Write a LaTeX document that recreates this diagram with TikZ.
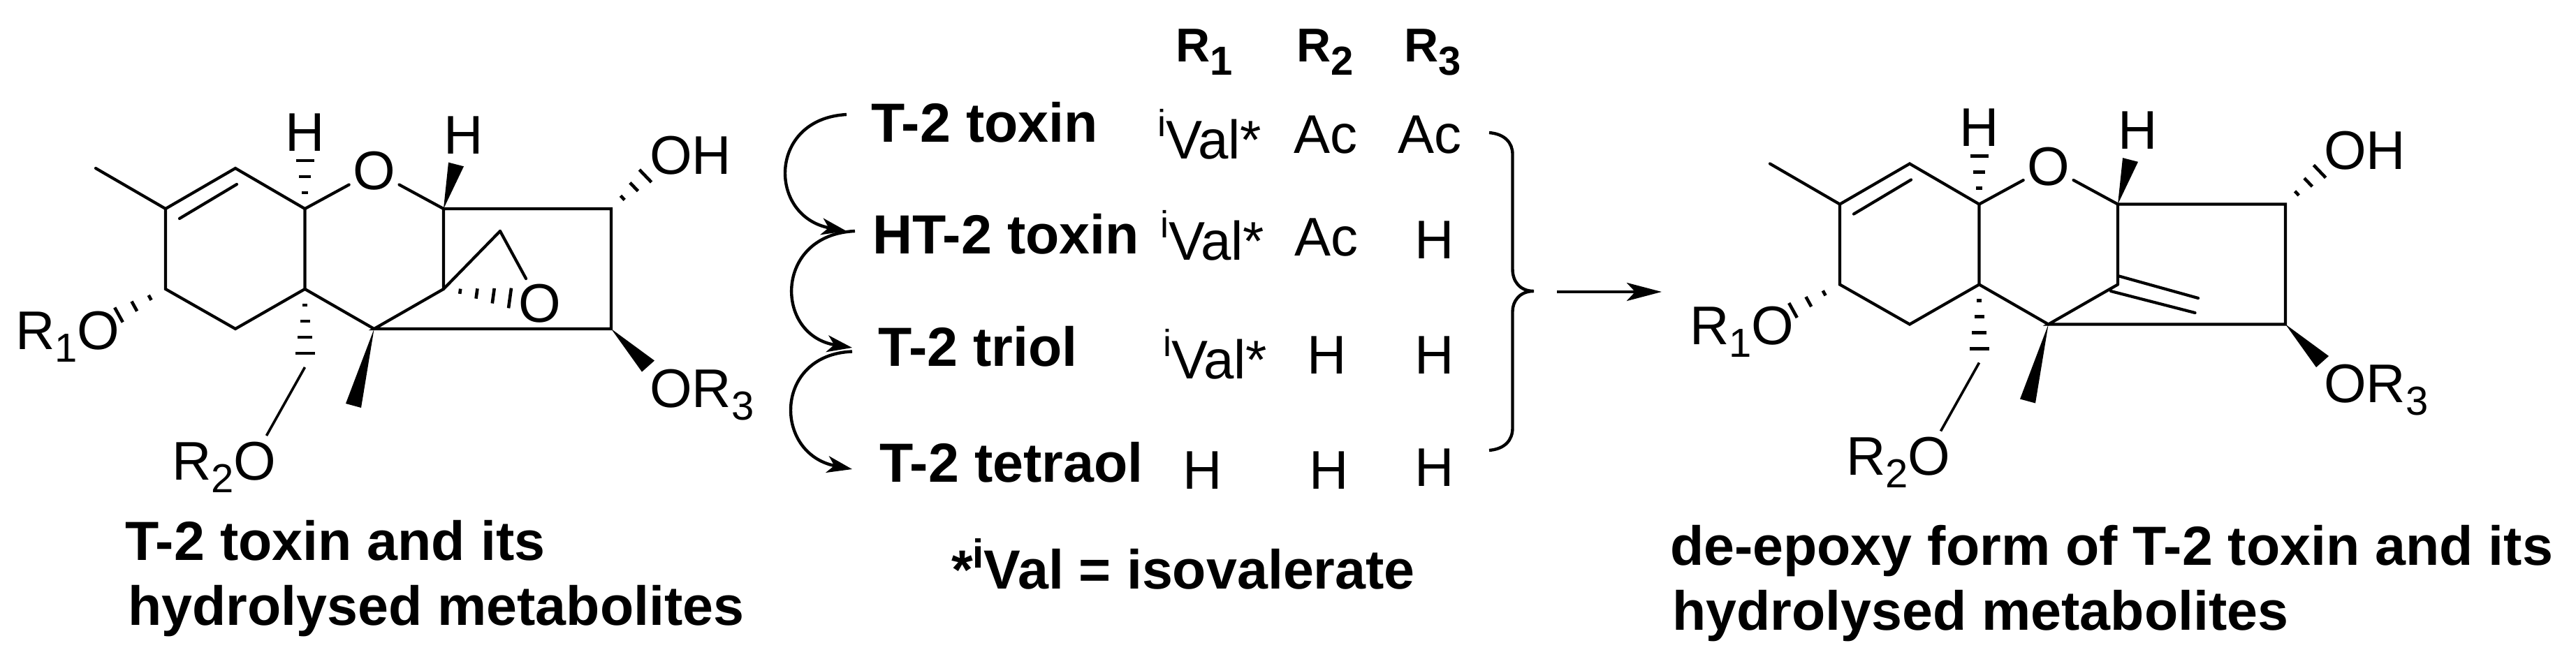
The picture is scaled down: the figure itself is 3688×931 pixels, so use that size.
\documentclass[tikz,border=0pt]{standalone}
\usepackage{fontspec}
\setmainfont{Liberation Sans}
\usetikzlibrary{calc,arrows.meta}
\tikzset{
  bond/.style={line width=2.1pt,line join=miter,line cap=round},
  thinbond/.style={line width=1.8pt,line cap=butt},
  hashline/.style={line width=2.3pt,line cap=butt},
  wedge/.style={fill=black,draw=none},
  lab/.style={inner sep=0pt,outer sep=0pt,anchor=base west,font=\fontsize{39pt}{39pt}\selectfont},
  labc/.style={lab,anchor=base},
  boldlab/.style={inner sep=0pt,outer sep=0pt,anchor=base west,font=\fontsize{39.5pt}{39.5pt}\selectfont\bfseries},
  hdr/.style={inner sep=0pt,outer sep=0pt,anchor=base west,font=\fontsize{34pt}{34pt}\selectfont\bfseries},
  ringO/.style={circle,inner sep=0pt,outer sep=0pt,font=\fontsize{39pt}{39pt}\selectfont},
  pathway/.style={line width=2.2pt,-{Stealth[length=18pt,width=12pt,inset=5pt]}},
  react/.style={line width=2.4pt,-{Stealth[length=25pt,width=13pt,inset=6pt]}},
  bracket/.style={line width=2.2pt}
}
\newcommand\hashb[4]{%
  \path coordinate (hq) at ($(#1)!1.5!(#2)$);
  \foreach \k in {1,...,#3}{%
    \pgfmathsetmacro\hw{#4*\k/#3/2}
    \path coordinate (hp) at ($(#1)!\k/#3!(#2)$);
    \draw[hashline] ($(hp)!\hw pt!90:(hq)$) -- ($(hp)!\hw pt!-90:(hq)$);
  }}
\newcommand\sbs[1]{\raisebox{-9pt}{\fontsize{29pt}{29pt}\selectfont #1}}
\newcommand\sbh[1]{\raisebox{-9.5pt}{\fontsize{29pt}{29pt}\selectfont #1}}
\newcommand\isup{\raisebox{16pt}{\fontsize{27pt}{27pt}\selectfont i}}
\newcommand\molbody{%
  \coordinate (m) at (137,241);
  \coordinate (c1) at (237,299);
  \coordinate (c2) at (337,241);
  \coordinate (c3) at (436.5,299);
  \coordinate (c4) at (635,299);
  \coordinate (c5) at (875,299);
  \coordinate (c6) at (875,471);
  \coordinate (c7) at (535.6,471);
  \coordinate (c8) at (635,414);
  \coordinate (c9) at (436.5,414);
  \coordinate (c10) at (337,471);
  \coordinate (c11) at (237,414);
  \coordinate (d1) at (257,313);
  \coordinate (d2) at (339,264);
  \node[ringO] (O) at (535.6,245) {O};
  \node[labc] (H1) at (436.5,216) {H};
  \node[labc] (H2) at (664,220) {H};
  \node[lab] (OH) at (930,249) {OH};
  \node[lab] (R1O) at (22,500) {R\sbs{1}O};
  \node[lab] (R2O) at (246,687) {R\sbs{2}O};
  \node[lab] (OR3) at (930,583) {OR\sbs{3}};
  \draw[bond] (m) -- (c1) -- (c2) -- (c3) -- (c9) -- (c10) -- (c11) -- (c1);
  \draw[bond] (d1) -- (d2);
  \draw[bond] (c3) -- (O);
  \draw[bond] (O) -- (c4);
  \draw[bond] (c8) -- (c4) -- (c5) -- (c6) -- (c7) -- (c8);
  \draw[bond] (c9) -- (c7);
  \coordinate (hH1) at (436.5,230);
  \hashb{c3}{hH1}{3}{13}
  \coordinate (hOH) at (924,252);
  \hashb{c5}{hOH}{3}{12.5}
  \coordinate (hR1) at (170,451);
  \hashb{c11}{hR1}{3}{12}
  \coordinate (hR2) at (436.5,506);
  \hashb{c9}{hR2}{4}{14}
  \coordinate (w1a) at (642,232.6);
  \coordinate (w1b) at (664,238.3);
  \fill[wedge] (c4) -- (w1a) -- (w1b) -- cycle;
  \coordinate (w2a) at (495,578);
  \coordinate (w2b) at (517,584);
  \fill[wedge] (c7) -- (w2a) -- (w2b) -- cycle;
  \coordinate (w3a) at (937,516.5);
  \coordinate (w3b) at (919,532.6);
  \fill[wedge] (c6) -- (w3a) -- (w3b) -- cycle;
  \coordinate (r2a) at (436.5,526);
  \coordinate (r2b) at (381.5,624);
  \draw[thinbond] (r2a) -- (r2b);
}
\begin{document}
\begin{tikzpicture}[x=0.5pt,y=-0.5pt]
\useasboundingbox (0,0) rectangle (3688,931);
% left molecule
\begin{scope}[name prefix=l-]
  \molbody
  \coordinate (e) at (716,331);
  \node[ringO] (Oe) at (772.6,435) {O};
  \draw[bond] (c8) -- (e);
  \draw[bond] (e) -- (Oe);
  \coordinate (hO) at (730,427);
  \hashb{c8}{hO}{4}{14.5}
\end{scope}
% right molecule
\begin{scope}[shift={(2397,-6.5)},name prefix=r-]
  \molbody
  \coordinate (x1) at (635,401.5);
  \coordinate (x2) at (750,433.5);
  \coordinate (x3) at (625,423.5);
  \coordinate (x4) at (745.5,454.5);
  \draw[bond] (x1) -- (x2);
  \draw[bond] (x3) -- (x4);
\end{scope}
% table
\node[hdr] (hR1) at (1683,88.5) {R\sbh{1}};
\node[hdr] (hR2) at (1856,88.5) {R\sbh{2}};
\node[hdr] (hR3) at (2010,88.5) {R\sbh{3}};
\node[boldlab] (t1) at (1247,203.5) {T-2 toxin};
\node[boldlab] (t2) at (1249,363) {HT-2 toxin};
\node[boldlab] (t3) at (1257.5,524) {T-2 triol};
\node[boldlab] (t4) at (1259,690) {T-2 tetraol};
\node[lab] (v1) at (1657,227) {\isup Val*};
\node[lab] (v2) at (1661,372) {\isup Val*};
\node[lab] (v3) at (1665,542) {\isup Val*};
\node[labc] (a12) at (1898,219.5) {Ac};
\node[labc] (a13) at (2047,219.5) {Ac};
\node[labc] (a22) at (1898.5,366) {Ac};
\node[labc] (a23) at (2053.5,370) {H};
\node[labc] (a32) at (1900,535) {H};
\node[labc] (a33) at (2053.5,535) {H};
\node[labc] (a41) at (1722,700) {H};
\node[labc] (a42) at (1903,700) {H};
\node[labc] (a43) at (2053.5,696) {H};
% pathway arrows
\coordinate (p1s) at (1212,164);
\coordinate (p1e) at (1212,331);
\coordinate (p2s) at (1224,331);
\coordinate (p2e) at (1220,498);
\coordinate (p3s) at (1220,503.5);
\coordinate (p3e) at (1220,672);
\draw[pathway] (p1s) .. controls (1099,170) and (1099,310) .. (p1e);
\draw[pathway] (p2s) .. controls (1108,336) and (1108,480) .. (p2e);
\draw[pathway] (p3s) .. controls (1107,508) and (1107,650) .. (p3e);
% brace
\draw[bracket] (2132,190) .. controls (2155,192) and (2165.5,205) .. (2165.5,221) -- (2165.5,385.6) .. controls (2165.5,402) and (2175,417) .. (2196,417) .. controls (2175,417) and (2165.5,432) .. (2165.5,446) -- (2165.5,613) .. controls (2165.5,630) and (2155,643) .. (2132,645);
% reaction arrow
\coordinate (ra) at (2229,418);
\coordinate (rb) at (2379,418);
\draw[react] (ra) -- (rb);
% captions
\node[boldlab] (c1a) at (179,802) {T-2 toxin and its};
\node[boldlab] (c1b) at (183,895) {hydrolysed metabolites};
\node[boldlab] (c2) at (1362,843) {*\raisebox{15pt}{\fontsize{29pt}{29pt}\selectfont i}Val = isovalerate};
\node[boldlab] (c3a) at (2391,809) {de-epoxy form of T-2 toxin and its};
\node[boldlab] (c3b) at (2394,902) {hydrolysed metabolites};
\end{tikzpicture}
\end{document}
